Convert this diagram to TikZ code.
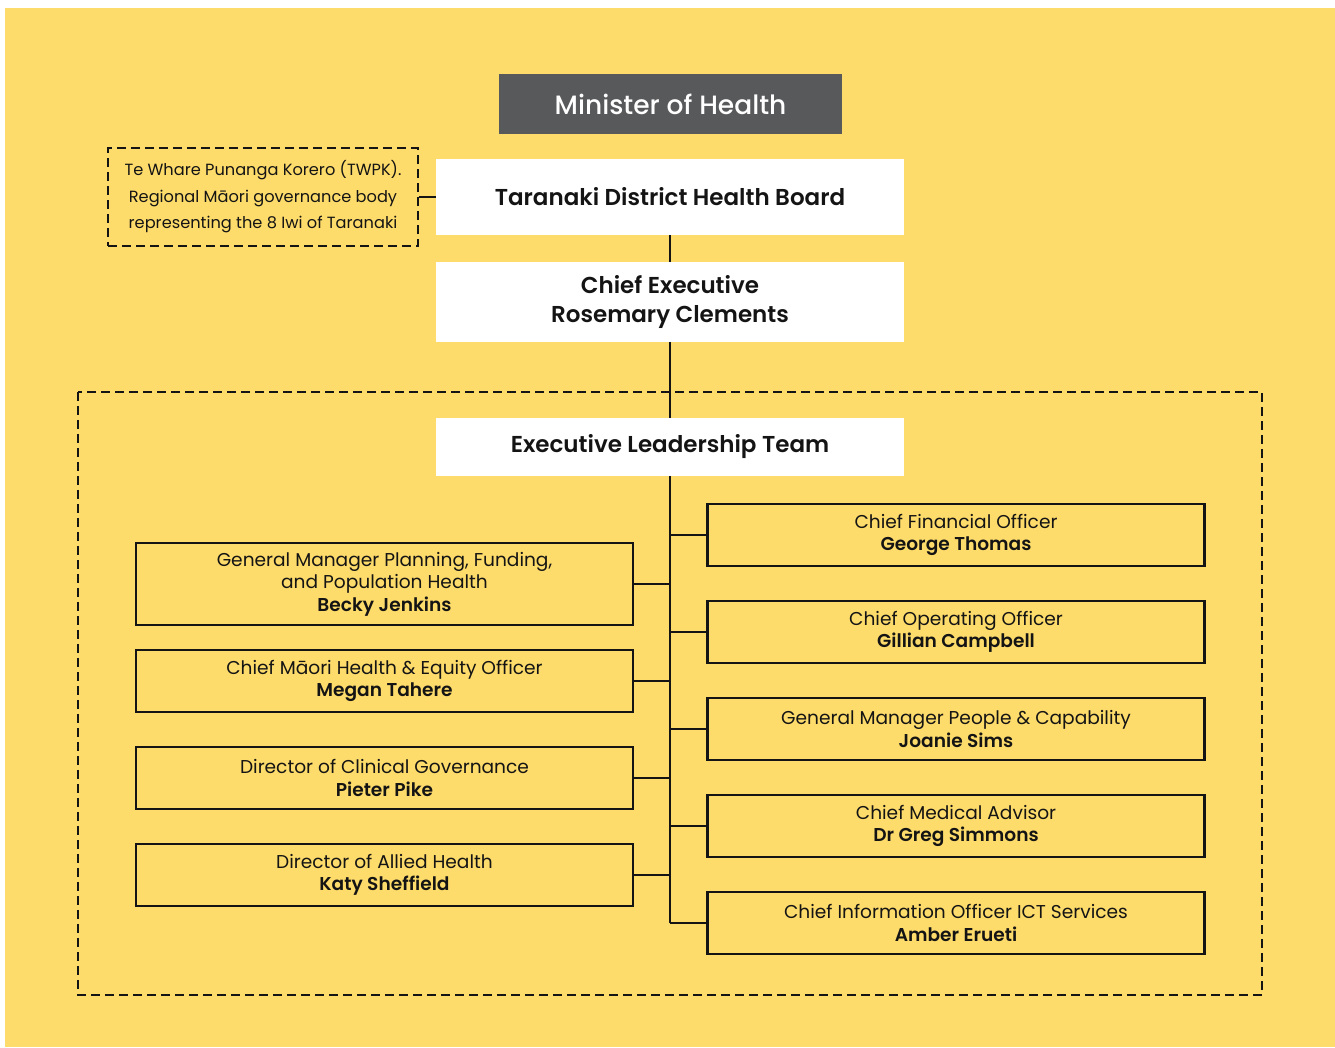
\documentclass[tikz,border=0pt]{standalone}
\usepackage{fontspec}
\setmainfont{Poppins}[BoldFont={Poppins SemiBold}]
\newfontfamily\mediumfont{Poppins Medium}
\usepackage{tikz}

\definecolor{bgyellow}{HTML}{FEDC6B}
\definecolor{minigray}{HTML}{58595B}
\definecolor{inkdark}{HTML}{141414}

\tikzset{
  headbox/.style={fill=white, minimum width=468pt, inner sep=0pt, text=inkdark,
    font=\fontsize{23}{29}\selectfont\bfseries, align=center},
  staffbox/.style={draw=inkdark, line width=2.5pt, minimum width=497pt, minimum height=62pt,
    inner sep=0pt, text=inkdark, font=\fontsize{18.6}{22.5}\selectfont, align=center},
  link/.style={draw=inkdark, line width=2.5pt},
  dashbox/.style={draw=inkdark, line width=2.5pt, dash pattern=on 9pt off 5pt}
}

\begin{document}
\begin{tikzpicture}[x=1pt, y=-1pt]
\useasboundingbox (0,0) rectangle (1335,1047);
\fill[bgyellow] (5,8) rectangle (1335,1047);

% top of the chart
\node[fill=minigray, minimum width=343pt, minimum height=60pt, inner sep=0pt, text=white,
  font=\fontsize{26.5}{30}\mediumfont] (minister) at (670.5,104) {Minister of Health};
\node[headbox, minimum height=76pt] (dhb) at (670,197) {Taranaki District Health Board};
\node[headbox, minimum height=80pt] (ceo) at (670,302) {Chief Executive\\Rosemary Clements};
\node[dashbox, minimum width=310pt, minimum height=98pt, inner sep=0pt, text=inkdark, align=center,
  font=\fontsize{16.2}{26.5}\selectfont] (twpk) at (263,197)
  {Te Whare Punanga Korero (TWPK).\\Regional Māori governance body\\representing the 8 Iwi of Taranaki};
\draw[link] (twpk.east) -- (dhb.west);
\draw[link] (dhb.south) -- (ceo.north);

% executive team
\draw[dashbox] (78,392) rectangle (1262,995);
\draw[link] (ceo.south) -- (670,418);
\node[headbox, minimum height=58pt] (elt) at (670,447) {Executive Leadership Team};
\coordinate (trunkend) at (670,923);
\draw[link] (elt.south) -- (trunkend);

% left column
\node[staffbox, minimum height=82pt] (planning) at (384.5,584)
  {General Manager Planning, Funding,\\and Population Health\\\textbf{Becky Jenkins}};
\node[staffbox] (maori) at (384.5,681) {Chief Māori Health \& Equity Officer\\\textbf{Megan Tahere}};
\node[staffbox] (clinical) at (384.5,778) {Director of Clinical Governance\\\textbf{Pieter Pike}};
\node[staffbox] (allied) at (384.5,875) {Director of Allied Health\\\textbf{Katy Sheffield}};

% right column
\node[staffbox] (cfo) at (956,535) {Chief Financial Officer\\\textbf{George Thomas}};
\node[staffbox] (coo) at (956,632) {Chief Operating Officer\\\textbf{Gillian Campbell}};
\node[staffbox] (people) at (956,729) {General Manager People \& Capability\\\textbf{Joanie Sims}};
\node[staffbox] (medical) at (956,826) {Chief Medical Advisor\\\textbf{Dr Greg Simmons}};
\node[staffbox] (cio) at (956,923) {Chief Information Officer ICT Services\\\textbf{Amber Erueti}};

\draw[link] (planning.east) -- (planning.east -| trunkend);
\draw[link] (maori.east) -- (maori.east -| trunkend);
\draw[link] (clinical.east) -- (clinical.east -| trunkend);
\draw[link] (allied.east) -- (allied.east -| trunkend);
\draw[link] (cfo.west -| trunkend) -- (cfo.west);
\draw[link] (coo.west -| trunkend) -- (coo.west);
\draw[link] (people.west -| trunkend) -- (people.west);
\draw[link] (medical.west -| trunkend) -- (medical.west);
\draw[link] (cio.west -| trunkend) -- (cio.west);
\end{tikzpicture}
\end{document}
